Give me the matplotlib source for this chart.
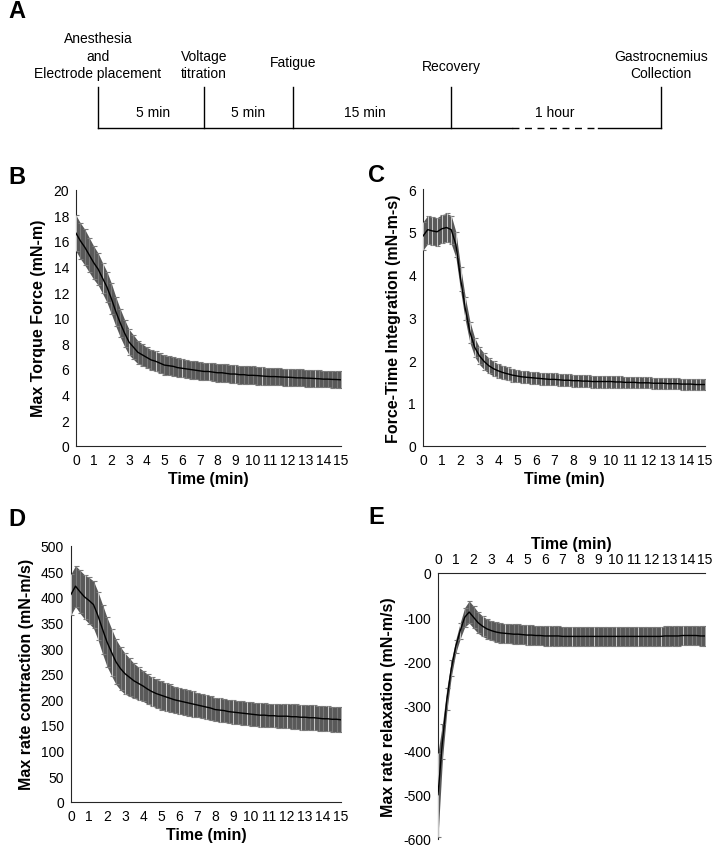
import numpy as np
import matplotlib
matplotlib.use("Agg")
import matplotlib.pyplot as plt

plt.rcParams['font.family'] = ['Liberation Sans', 'DejaVu Sans']
plt.rcParams['axes.unicode_minus'] = False

"""Data read off the figure (mean and error, sampled every 0.25 min)"""
time_min = np.linspace(0, 15, 61)

torque_mean = [16.6, 16.0, 15.5, 14.9, 14.3, 13.8, 13.1, 12.4, 11.5, 10.5,
               9.6, 8.8, 8.1, 7.7, 7.3, 7.1, 6.9, 6.7, 6.6, 6.45,
               6.3, 6.25, 6.2, 6.1, 6.05, 6.0, 5.95, 5.9, 5.85, 5.8,
               5.8, 5.75, 5.7, 5.7, 5.65, 5.6, 5.6, 5.55, 5.55, 5.5,
               5.5, 5.48, 5.45, 5.42, 5.4, 5.4, 5.38, 5.36, 5.35, 5.33,
               5.3, 5.3, 5.28, 5.27, 5.25, 5.23, 5.2, 5.2, 5.18, 5.17, 5.15]
torque_err = [1.4, 1.4, 1.4, 1.35, 1.3, 1.25, 1.2, 1.2, 1.2, 1.15,
              1.1, 1.05, 1.0, 0.95, 0.9, 0.85, 0.8, 0.8, 0.78, 0.76,
              0.75, 0.74, 0.73, 0.72, 0.72, 0.71, 0.7, 0.7, 0.7, 0.7,
              0.7, 0.7, 0.7, 0.7, 0.7, 0.7, 0.7, 0.7, 0.7, 0.7,
              0.7, 0.7, 0.68, 0.68, 0.68, 0.68, 0.67, 0.67, 0.67, 0.67,
              0.66, 0.66, 0.66, 0.66, 0.66, 0.65, 0.65, 0.65, 0.65, 0.65, 0.65]

fti_mean = [4.9, 5.05, 5.02, 5.0, 5.07, 5.1, 5.05, 4.7, 3.9, 3.2,
            2.65, 2.3, 2.1, 1.97, 1.87, 1.8, 1.75, 1.71, 1.68, 1.65,
            1.63, 1.61, 1.6, 1.59, 1.58, 1.57, 1.56, 1.55, 1.55, 1.54,
            1.53, 1.53, 1.52, 1.52, 1.51, 1.51, 1.5, 1.5, 1.5, 1.5,
            1.5, 1.49, 1.49, 1.48, 1.48, 1.48, 1.47, 1.47, 1.47, 1.46,
            1.46, 1.46, 1.45, 1.45, 1.45, 1.44, 1.44, 1.44, 1.43, 1.43, 1.43]
fti_err = [0.33, 0.33, 0.33, 0.33, 0.33, 0.33, 0.33, 0.3, 0.28, 0.27,
           0.25, 0.22, 0.2, 0.19, 0.18, 0.17, 0.16, 0.16, 0.15, 0.15,
           0.14, 0.14, 0.14, 0.14, 0.14, 0.14, 0.14, 0.14, 0.14, 0.14,
           0.14, 0.14, 0.14, 0.14, 0.14, 0.14, 0.14, 0.14, 0.14, 0.14,
           0.14, 0.14, 0.13, 0.13, 0.13, 0.13, 0.13, 0.13, 0.13, 0.13,
           0.13, 0.13, 0.13, 0.13, 0.13, 0.13, 0.13, 0.13, 0.13, 0.13, 0.13]

contr_mean = [405, 421, 410, 400, 393, 385, 363, 337, 312, 292,
              273, 260, 250, 243, 236, 231, 226, 220, 215, 211,
              208, 205, 202, 199, 197, 195, 193, 191, 189, 187,
              185, 183, 180, 179, 178, 176, 175, 174, 173, 172,
              171, 170, 169, 169, 168, 168, 167, 167, 167, 166,
              166, 165, 165, 164, 164, 163, 162, 162, 161, 161, 160]
contr_err = [40, 40, 42, 43, 45, 46, 47, 48, 48, 46,
             44, 42, 40, 37, 34, 32, 30, 29, 28, 28,
             28, 27, 27, 26, 26, 25, 25, 25, 24, 24,
             24, 24, 23, 23, 23, 23, 23, 23, 23, 23,
             23, 23, 23, 23, 23, 23, 23, 23, 23, 24,
             24, 24, 24, 24, 24, 24, 24, 24, 24, 24, 24]

relax_mean = [-500, -380, -285, -215, -165, -130, -100, -88, -100, -112,
              -120, -126, -130, -133, -135, -136, -137, -138, -138, -139,
              -140, -140, -141, -141, -142, -142, -142, -142, -143, -143,
              -143, -143, -143, -143, -143, -143, -143, -143, -143, -143,
              -143, -143, -143, -143, -143, -143, -143, -143, -143, -143,
              -143, -142, -142, -142, -142, -141, -141, -141, -141, -142, -142]
relax_err = [95, 40, 25, 18, 15, 18, 22, 25, 25, 24,
             23, 22, 22, 22, 22, 22, 22, 22, 22, 22,
             22, 22, 22, 22, 22, 22, 22, 22, 22, 22,
             22, 22, 22, 22, 22, 22, 22, 22, 22, 22,
             22, 22, 22, 22, 22, 22, 22, 22, 22, 22,
             22, 22, 22, 22, 22, 22, 22, 22, 22, 22, 22]

events = ["Anesthesia\nand\nElectrode placement", "Voltage\ntitration", "Fatigue",
          "Recovery", "Gastrocnemius\nCollection"]
durations = ["5 min", "5 min", "15 min", "1 hour"]

W, H = 714, 853
fig = plt.figure(figsize=(W/100, H/100), dpi=100)

def box(left, right, top, bottom):
    return [left/W, 1 - bottom/H, (right - left)/W, (bottom - top)/H]

band = '#595959'
light = '#c8c8c8'

"""Panel A - timeline"""
axA = fig.add_axes([0, 1 - 140/H, 1, 140/H])
axA.set_xlim(0, W)
axA.set_ylim(140, 0)
axA.axis('off')
ev_x = [98, 204, 293, 451, 661]   # layout of the schematic (pixels)
base_y, top_y = 129, 88
for x in ev_x:
    axA.plot([x, x], [top_y, base_y], color='black', lw=1)
axA.plot([ev_x[0], 512], [base_y, base_y], color='black', lw=1)
axA.plot([512, 598], [base_y, base_y], color='black', lw=1, ls=(0, (5, 4)))
axA.plot([598, ev_x[-1]], [base_y, base_y], color='black', lw=1)
label_y = [81, 81, 63, 67, 81]
for x, y, s in zip(ev_x, label_y, events):
    va = 'bottom' if '\n' in s else 'center'
    axA.text(x, y, s, ha='center', va=va, fontsize=10, linespacing=1.3)
dur_x = [153, 248, 365, 555]
for x, s in zip(dur_x, durations):
    axA.text(x, 113, s, ha='center', va='center', fontsize=10)


def panel(pos, mean, err, ylim, yticks, ylabel, light_step, top_axis=False):
    ax = fig.add_axes(pos)
    mean = np.array(mean, dtype=float)
    err = np.array(err, dtype=float)
    ax.fill_between(time_min, mean - err, mean + err, color=band, lw=0, zorder=1)
    ax.errorbar(time_min, mean, yerr=err, fmt='none', ecolor='#7a7a7a', elinewidth=0.8,
                capsize=1.8, capthick=0.8, zorder=2)
    ax.vlines(time_min[::light_step], (mean - err)[::light_step], (mean + err)[::light_step],
              color=light, lw=0.7, zorder=3)
    ax.plot(time_min, mean, color='black', lw=1, zorder=4)
    ax.set_xlim(0, 15)
    ax.set_ylim(*ylim)
    ax.set_xticks(range(16))
    ax.set_yticks(yticks)
    ax.tick_params(length=0, labelsize=10, pad=5)
    for s in ['right', 'top', 'bottom', 'left']:
        ax.spines[s].set_visible(False)
    ax.spines['left'].set_visible(True)
    ax.spines['left'].set_color('#262626')
    if top_axis:
        ax.spines['top'].set_visible(True)
        ax.spines['top'].set_color('#262626')
        ax.xaxis.tick_top()
        ax.xaxis.set_label_position('top')
    else:
        ax.spines['bottom'].set_visible(True)
        ax.spines['bottom'].set_color('#262626')
    ax.set_xlabel('Time (min)', fontsize=11.5, fontweight='bold', labelpad=3)
    ax.set_ylabel(ylabel, fontsize=11.5, fontweight='bold', labelpad=5)
    return ax


panel(box(76, 341, 190.7, 446.7), torque_mean, torque_err, (0, 20), range(0, 21, 2),
      'Max Torque Force (mN-m)', 6)
panel(box(423, 705, 190, 446.7), fti_mean, fti_err, (0, 6), range(0, 7),
      'Force-Time Integration (mN-m-s)', 1)
panel(box(71, 341, 546.7, 802.7), contr_mean, contr_err, (0, 500), range(0, 501, 50),
      'Max rate contraction (mN-m/s)', 3)
panel(box(438, 705, 574, 840), relax_mean, relax_err, (-600, 0), range(-600, 1, 100),
      'Max rate relaxation (mN-m/s)', 5, top_axis=True)

for x, y, s in [(8, 12, 'A'), (8, 177, 'B'), (368, 175, 'C'), (8, 520, 'D'), (368, 517, 'E')]:
    fig.text(x/W, 1 - y/H, s, fontsize=17, fontweight='bold', va='center', ha='left')

fig.savefig('out.png', dpi=100)
